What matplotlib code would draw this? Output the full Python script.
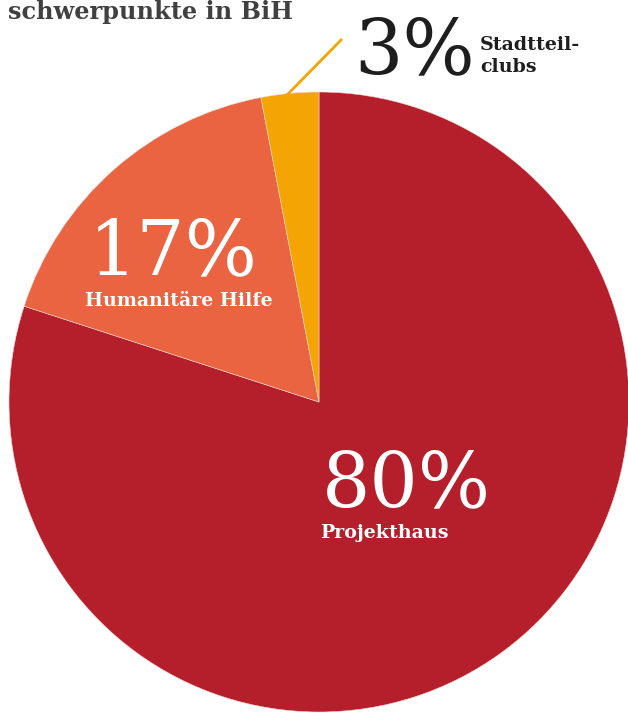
import matplotlib

matplotlib.use("Agg")
import matplotlib.pyplot as plt

# Shares of the project focus areas (percent)
shares = [80, 17, 3]
names = ["Projekthaus", "Humanitäre Hilfe", "Stadtteil-\nclubs"]
colors = ["#B41F2B", "#EA6441", "#F4A503"]
title = "schwerpunkte in BiH"

W, H = 628, 713
SERIF = "DejaVu Serif"


def px(v):
    # pixel size -> points at dpi 100
    return v * 72 / 100


fig = plt.figure(figsize=(W / 100, H / 100), dpi=100)
ax = fig.add_axes([0, 0, 1, 1])

cx, cy, r = 319, H - 402, 310
wedges, _ = ax.pie(shares, colors=colors, startangle=90, counterclock=False,
                   center=(cx, cy), radius=r,
                   wedgeprops=dict(edgecolor="#f3d6cf", linewidth=0.4))
ax.set_xlim(0, W)
ax.set_ylim(0, H)
ax.set_aspect("equal")
ax.axis("off")

# title (runs off the top edge)
ax.text(8, H - 19, title, fontfamily=SERIF, fontweight="bold",
        fontsize=px(24), color="#404040", ha="left", va="baseline")

# large percentage labels
big = px(76)
small = px(19)
ax.text(322, H - 506, f"{shares[0]}%", fontfamily=SERIF, fontsize=big,
        color="white", ha="left", va="baseline")
ax.text(320, H - 538, names[0], fontfamily=SERIF, fontweight="bold",
        fontsize=small, color="white", ha="left", va="baseline")

ax.text(89, H - 274, f"{shares[1]}%", fontfamily=SERIF, fontsize=big,
        color="white", ha="left", va="baseline")
ax.text(85, H - 306, names[1], fontfamily=SERIF, fontweight="bold",
        fontsize=small, color="white", ha="left", va="baseline")

ax.text(354, H - 73, f"{shares[2]}%", fontfamily=SERIF, fontsize=big,
        color="#1e1e1e", ha="left", va="baseline")
ax.text(480, H - 72, names[2], fontfamily=SERIF, fontweight="bold",
        fontsize=small, color="#1e1e1e", ha="left", va="baseline",
        linespacing=1.3)

# leader line for the small slice
ax.plot([287, 342], [H - 95, H - 39], color=colors[2], lw=2,
        solid_capstyle="butt")

fig.savefig("out.png", dpi=100)
